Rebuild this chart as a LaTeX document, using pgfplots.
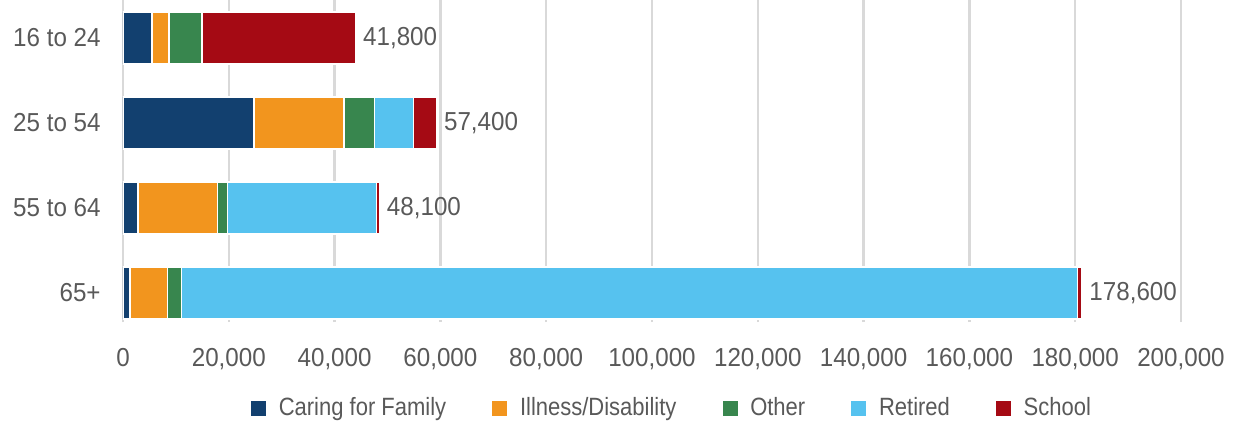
\documentclass[border=0pt]{standalone}
\usepackage{fontspec}
\setmainfont{Liberation Sans}[FakeStretch=0.93]
\newfontfamily\legfont{Liberation Sans}[FakeStretch=0.88]
\usepackage{pgfplots}
\usepackage{pgfplotstable}
\pgfplotsset{compat=1.18}
\usetikzlibrary{calc}
\definecolor{cfam}{HTML}{12406F}
\definecolor{cill}{HTML}{F2951E}
\definecolor{coth}{HTML}{38864E}
\definecolor{cret}{HTML}{56C2EF}
\definecolor{csch}{HTML}{A50A14}
\definecolor{txt}{HTML}{595959}
\definecolor{grd}{HTML}{D9D9D9}
\pgfplotstableread{
pos caring illness other retired school tot lab
3 5500 3200 6200 0 29100 44000 41,800
2 24800 17000 5700 7400 4400 59300 57,400
1 2800 15100 1900 28100 600 48500 48,100
0 1300 7100 2700 169300 900 181300 178,600
}\data
\newcommand{\lblfont}{\fontsize{13}{15}\selectfont}
\begin{document}
\begin{tikzpicture}
\begin{axis}[
  scale only axis, width=529pt, height=161pt,
  xbar stacked, bar width=26pt,
  xmin=0, xmax=200000, ymin=-0.341, ymax=3.447,
  xtick={0,20000,...,200000},
  ytick={0,1,2,3}, yticklabels={65+,55 to 64,25 to 54,16 to 24},
  xmajorgrids, grid style={grd, line width=1.2pt},
  axis line style={draw=none},
  major tick length=0pt,
  scaled x ticks=false,
  /pgf/number format/.cd, fixed, precision=0, 1000 sep={,}, assume math mode=true,
  /pgfplots/.cd,
  xticklabel style={font=\lblfont, text=txt, anchor=north, inner sep=0pt, yshift=-13pt},
  yticklabel style={font=\lblfont, text=txt, anchor=east, inner sep=0pt, xshift=-11pt},
  legend columns=-1,
  legend style={at={(0.5,0)}, anchor=center, yshift=-43pt, xshift=10.5pt, draw=none,
    font=\legfont\fontsize{12.5}{15}\selectfont, text=txt,
    /tikz/every even column/.append style={column sep=21pt}},
  legend image code/.code={\fill[#1, draw=none] (0pt,-3.75pt) rectangle (7.5pt,3.75pt); \path (11.5pt,0pt);},
]
\addplot[fill=cfam, draw=white, line width=0.75pt] table[x=caring, y=pos] {\data};
\addlegendentry{Caring for Family}
\addplot[fill=cill, draw=white, line width=0.75pt] table[x=illness, y=pos] {\data};
\addlegendentry{Illness/Disability}
\addplot[fill=coth, draw=white, line width=0.75pt] table[x=other, y=pos] {\data};
\addlegendentry{Other}
\addplot[fill=cret, draw=white, line width=0.75pt] table[x=retired, y=pos] {\data};
\addlegendentry{Retired}
\addplot[fill=csch, draw=white, line width=0.75pt] table[x=school, y=pos] {\data};
\addlegendentry{School}
\coordinate (bl) at (rel axis cs:0,0);
\coordinate (tr) at (rel axis cs:1,1);
\end{axis}
\begin{axis}[
  at={(bl)}, anchor=south west,
  scale only axis, width=529pt, height=161pt,
  xmin=0, xmax=200000, ymin=-0.341, ymax=3.447,
  hide axis, clip=false,
]
\addplot[only marks, mark=none, nodes near coords, point meta=explicit symbolic,
  nodes near coords style={anchor=west, text=txt, font=\lblfont, inner sep=0pt, xshift=3.5pt}]
  table[x=tot, y=pos, meta=lab] {\data};
\end{axis}
\pgfresetboundingbox
\path ($(bl)+(-61.5pt,-51.5pt)$) rectangle ($(tr)+(28.5pt,0pt)$);
\end{tikzpicture}
\end{document}
